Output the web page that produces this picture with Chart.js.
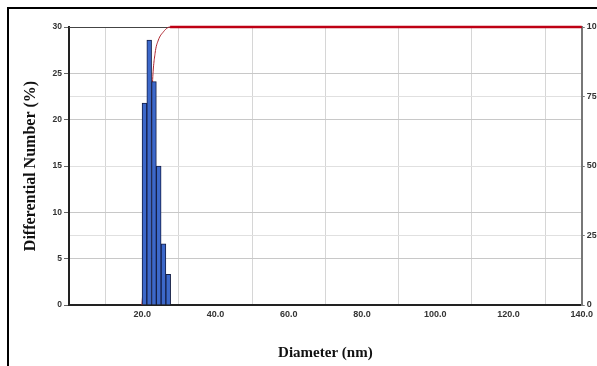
<!DOCTYPE html>
<html>
<head>
<meta charset="utf-8">
<script src="https://cdn.jsdelivr.net/npm/chart.js@4.4.1/dist/chart.umd.min.js"></script>
<style>
  html, body { margin: 0; padding: 0; background: #fff; overflow: hidden; }
</style>
</head>
<body>
<canvas id="dls" width="597" height="366"></canvas>
<script>
// size distribution (differential number, %)
var diameters = [20.6, 21.9, 23.2, 24.5, 25.8, 27.1];
var numberPct = [21.8, 28.6, 24.1, 15.0, 6.6, 3.3];

// cumulative curve (%, right axis)
var cumDiameters = [19.9, 21.1, 22.2, 22.8, 23.5, 24.4, 25.8, 27.0, 27.6, 140.0];
var cumPct = [0, 21, 55, 80, 90.5, 95.3, 98.3, 99.8, 100, 100];

var xTicks = [20, 40, 60, 80, 100, 120, 140];
var leftTicks = [0, 5, 10, 15, 20, 25, 30];
var rightTicks = [0, 25, 50, 75, 100];

var frame = {
  id: 'frame',
  beforeDraw: function (chart) {
    var c = chart.ctx;
    c.save();
    c.fillStyle = '#fff';
    c.fillRect(0, 0, chart.width, chart.height);
    c.strokeStyle = '#000';
    c.lineWidth = 2;
    c.beginPath();
    c.moveTo(8, chart.height);
    c.lineTo(8, 8);
    c.lineTo(chart.width, 8);
    c.stroke();
    c.restore();
  },
  beforeDatasetsDraw: function (chart) {
    var c = chart.ctx, a = chart.chartArea;
    c.save();
    c.strokeStyle = '#444';
    c.lineWidth = 1;
    c.beginPath();
    c.moveTo(a.left, a.top + 0.5);
    c.lineTo(a.right, a.top + 0.5);
    c.stroke();
    c.restore();
  }
};

var flat = function (ctx) { return ctx.p0.parsed.y >= 100 && ctx.p1.parsed.y >= 100; };

new Chart(document.getElementById('dls'), {
  data: {
    datasets: [{
      type: 'bar',
      data: diameters.map(function (d, i) { return { x: d, y: numberPct[i] }; }),
      backgroundColor: 'rgb(60,104,202)',
      borderColor: 'rgb(20,30,70)',
      borderWidth: 1,
      barPercentage: 1,
      categoryPercentage: 1,
      yAxisID: 'y',
      order: 1
    }, {
      type: 'line',
      data: cumDiameters.map(function (d, i) { return { x: d, y: cumPct[i] }; }),
      borderColor: 'rgb(176,40,50)',
      borderWidth: 1,
      segment: {
        borderWidth: function (ctx) { return flat(ctx) ? 2.5 : 1; },
        borderColor: function (ctx) { return flat(ctx) ? 'rgb(190,0,20)' : 'rgb(176,40,50)'; }
      },
      pointRadius: 0,
      cubicInterpolationMode: 'monotone',
      clip: false,
      yAxisID: 'y2',
      order: 2
    }]
  },
  options: {
    responsive: false,
    animation: false,
    layout: { padding: { left: 17, top: 27, right: 0, bottom: 0 } },
    plugins: { legend: { display: false }, tooltip: { enabled: false } },
    scales: {
      x: {
        type: 'linear',
        min: 0,
        max: 140,
        offset: false,
        afterBuildTicks: function (s) { s.ticks = xTicks.map(function (v) { return { value: v }; }); },
        afterFit: function (s) { s.height = 61; },
        ticks: {
          color: '#333',
          font: { family: 'Arial', size: 9, weight: 'bold' },
          maxRotation: 0,
          padding: 4,
          callback: function (v) { return v.toFixed(1); }
        },
        grid: { color: '#d6d6d6', drawTicks: false },
        border: { color: '#222', width: 2 },
        title: {
          display: true,
          text: 'Diameter (nm)',
          color: '#111',
          font: { family: 'Liberation Serif', size: 15, weight: 'bold' },
          padding: { top: 18 }
        }
      },
      y: {
        position: 'left',
        min: 0,
        max: 30,
        afterBuildTicks: function (s) { s.ticks = leftTicks.map(function (v) { return { value: v }; }); },
        afterFit: function (s) { s.width = 52; },
        ticks: {
          color: '#333',
          font: { family: 'Arial', size: 8.5, weight: 'bold' },
          padding: 2
        },
        grid: { color: '#c8c8c8', tickLength: 5, tickColor: '#666' },
        border: { color: '#222', width: 2 },
        title: {
          display: true,
          text: 'Differential Number (%)',
          color: '#111',
          font: { family: 'Liberation Serif', size: 16, weight: 'bold' },
          padding: { bottom: 6 }
        }
      },
      y2: {
        position: 'right',
        min: 0,
        max: 100,
        afterBuildTicks: function (s) { s.ticks = rightTicks.map(function (v) { return { value: v }; }); },
        afterFit: function (s) { s.width = 15; },
        ticks: {
          color: '#333',
          font: { family: 'Arial', size: 9, weight: 'bold' },
          padding: 2
        },
        grid: { color: '#e0e0e0', tickLength: 3, tickColor: '#777' },
        border: { color: '#777', width: 2 }
      }
    }
  },
  plugins: [frame]
});
</script>
</body>
</html>
